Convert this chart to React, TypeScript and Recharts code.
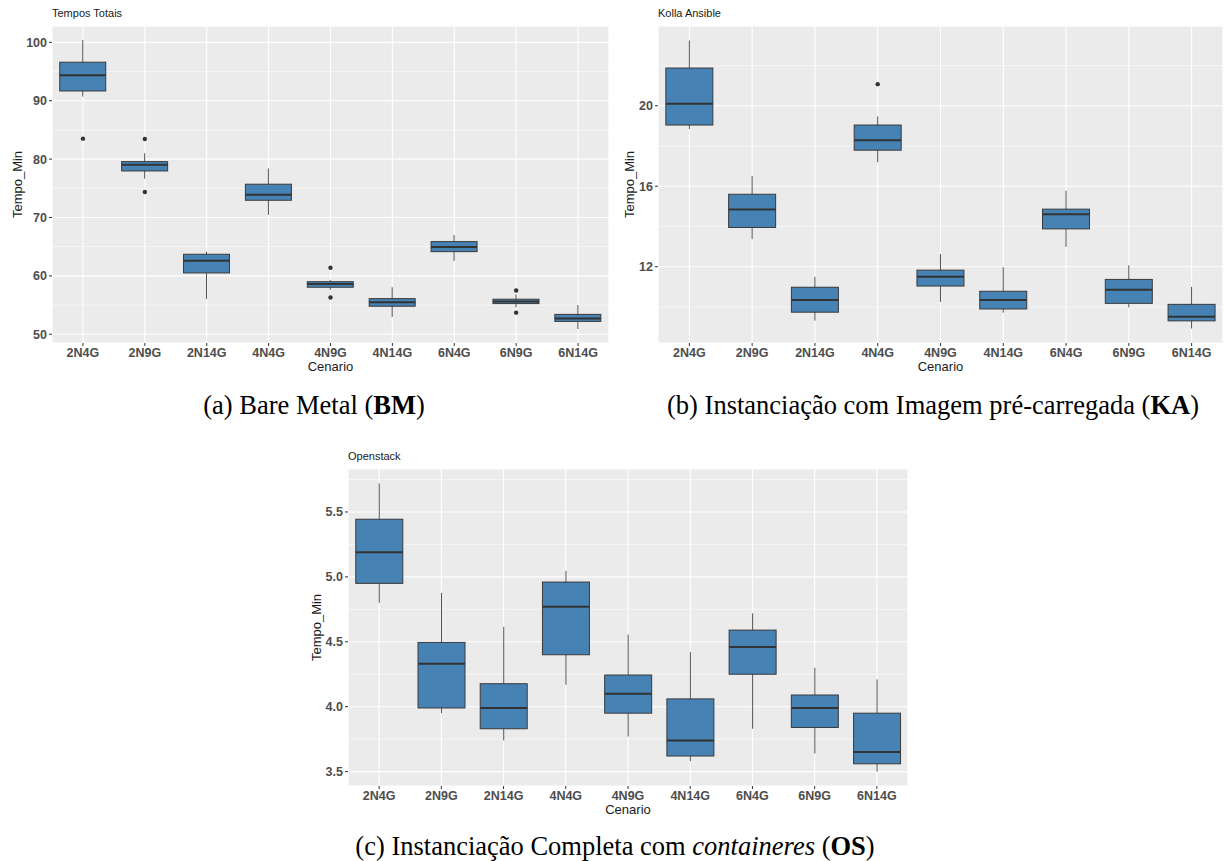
import { Bar, CartesianGrid, ComposedChart, Label, Line, XAxis, YAxis } from "recharts";

const CATEGORIES = ["2N4G", "2N9G", "2N14G", "4N4G", "4N9G", "4N14G", "6N4G", "6N9G", "6N14G"];

// (a) Bare Metal – Tempos Totais (min)
const BM_LOW = [90.7, 76.65, 56.05, 70.45, 57.6, 52.97, 62.56, 54.6, 50.9];
const BM_Q1 = [91.67, 77.97, 60.5, 72.95, 58.05, 54.8, 64.15, 55.25, 52.2];
const BM_MED = [94.35, 79.05, 62.6, 73.9, 58.6, 55.5, 64.95, 55.6, 52.7];
const BM_Q3 = [96.6, 79.57, 63.7, 75.7, 59.0, 56.1, 65.87, 56.0, 53.4];
const BM_HIGH = [100.4, 81.0, 64.15, 78.4, 59.3, 58.05, 67.0, 56.8, 55.0];
const BM_OUT_1 = [83.5, 83.45, null, null, 61.4, null, null, 57.5, null];
const BM_OUT_2 = [null, 74.37, null, null, 56.3, null, null, 53.7, null];

// (b) Kolla Ansible
const KA_LOW = [18.84, 13.37, 9.32, 17.19, 10.25, 9.72, 12.99, 9.98, 8.93];
const KA_Q1 = [19.04, 13.95, 9.74, 17.79, 11.04, 9.9, 13.88, 10.18, 9.31];
const KA_MED = [20.1, 14.84, 10.35, 18.28, 11.5, 10.35, 14.61, 10.86, 9.52];
const KA_Q3 = [21.87, 15.6, 10.98, 19.04, 11.83, 10.78, 14.86, 11.37, 10.13];
const KA_HIGH = [23.24, 16.5, 11.5, 19.47, 12.63, 11.97, 15.77, 12.07, 11.0];
const KA_OUT_1 = [null, null, null, 21.07, null, null, null, null, null];

// (c) Openstack
const OS_LOW = [4.8, 3.95, 3.74, 4.17, 3.77, 3.58, 3.83, 3.64, 3.5];
const OS_Q1 = [4.95, 3.99, 3.83, 4.4, 3.95, 3.62, 4.25, 3.84, 3.56];
const OS_MED = [5.19, 4.33, 3.99, 4.77, 4.1, 3.74, 4.46, 3.99, 3.65];
const OS_Q3 = [5.444, 4.495, 4.177, 4.96, 4.244, 4.06, 4.59, 4.09, 3.95];
const OS_HIGH = [5.72, 4.877, 4.615, 5.046, 4.556, 4.42, 4.72, 4.3, 4.21];

const BM_TICKS = [50, 60, 70, 80, 90, 100];
const BM_MINOR = [55, 65, 75, 85, 95];
const KA_TICKS = [12, 16, 20];
const KA_MINOR = [10, 14, 18, 22];
const OS_TICKS = [3.5, 4.0, 4.5, 5.0, 5.5];
const OS_MINOR = [3.75, 4.25, 4.75, 5.25, 5.75];

const SANS = "'Liberation Sans', Arial, Helvetica, sans-serif";
const SERIF = "'Liberation Serif', 'Times New Roman', serif";

function buildRows(low, q1, med, q3, high, out1?, out2?) {
  return CATEGORIES.map((cat, i) => ({
    cat,
    range: [low[i], high[i]],
    low: low[i],
    q1: q1[i],
    med: med[i],
    q3: q3[i],
    high: high[i],
    out1: out1 ? out1[i] : null,
    out2: out2 ? out2[i] : null,
  }));
}

// whisker + box + median, positioned inside the range bar Recharts lays out
function BoxShape(props: any) {
  const { x, y, width, height, payload } = props;
  if (payload == null || x == null || y == null) return null;
  const top = Math.min(y, y + height);
  const bottom = Math.max(y, y + height);
  const span = payload.high - payload.low;
  const toPx = (v: number) => top + ((payload.high - v) / span) * (bottom - top);
  const cx = x + width / 2;
  const yQ3 = toPx(payload.q3);
  const yQ1 = toPx(payload.q1);
  const yMed = toPx(payload.med);
  return (
    <g>
      <line x1={cx} x2={cx} y1={top} y2={bottom} stroke="#555" strokeWidth={1} />
      <rect x={x} y={yQ3} width={width} height={yQ1 - yQ3} fill="#4682B4" stroke="#3a3a3a" strokeWidth={1} />
      <line x1={x} x2={x + width} y1={yMed} y2={yMed} stroke="#333" strokeWidth={2} />
    </g>
  );
}

interface PanelProps {
  left: number;
  top: number;
  yAxisWidth: number;
  rightMargin: number;
  yLabelOffset: number;
  data: any[];
  domain: [number, number];
  ticks: number[];
  minor: number[];
  decimals: number;
  title: string;
}

function Panel({ left, top, yAxisWidth, rightMargin, yLabelOffset, data, domain, ticks, minor, decimals, title }: PanelProps) {
  const hasOut1 = data.some((d) => d.out1 != null);
  const hasOut2 = data.some((d) => d.out2 != null);
  return (
    <div style={{ position: "absolute", left, top, width: 615, height: 380 }}>
      <div
        style={{
          position: "absolute",
          left: yAxisWidth,
          top: 8,
          fontFamily: SANS,
          fontSize: 11,
          lineHeight: "11px",
          color: "#1a1a1a",
          whiteSpace: "nowrap",
        }}
      >
        {title}
      </div>
      <ComposedChart
        width={615}
        height={380}
        data={data}
        margin={{ top: 26, right: rightMargin, bottom: 0, left: 0 }}
        barCategoryGap="12.5%"
      >
        <CartesianGrid
          fill="#EBEBEB"
          stroke="#ffffff"
          strokeWidth={0.55}
          vertical={false}
          horizontalValues={minor}
        />
        <CartesianGrid stroke="#ffffff" strokeWidth={1.1} />
        <XAxis
          dataKey="cat"
          type="category"
          interval={0}
          height={37}
          tickSize={3}
          axisLine={false}
          tickLine={{ stroke: "#333" }}
          tick={{ fill: "#4D4D4D", fontSize: 12.5, fontWeight: "bold", fontFamily: SANS }}
        >
          <Label
            value="Cenario"
            position="insideBottom"
            offset={9}
            style={{ fill: "#1a1a1a", fontSize: 13, fontFamily: SANS }}
          />
        </XAxis>
        <YAxis
          type="number"
          width={yAxisWidth}
          domain={domain}
          ticks={ticks}
          allowDataOverflow
          tickSize={3}
          axisLine={false}
          tickLine={{ stroke: "#333" }}
          tickFormatter={(v: number) => v.toFixed(decimals)}
          tick={{ fill: "#4D4D4D", fontSize: 12.5, fontWeight: "bold", fontFamily: SANS }}
        >
          <Label
            value="Tempo_Min"
            angle={-90}
            position="insideLeft"
            offset={yLabelOffset}
            style={{ fill: "#1a1a1a", fontSize: 13, fontFamily: SANS, textAnchor: "middle" }}
          />
        </YAxis>
        <Bar dataKey="range" shape={BoxShape} isAnimationActive={false} />
        {hasOut1 && (
          <Line
            dataKey="out1"
            stroke="none"
            dot={{ r: 2.2, fill: "#333", stroke: "none" }}
            activeDot={false}
            isAnimationActive={false}
          />
        )}
        {hasOut2 && (
          <Line
            dataKey="out2"
            stroke="none"
            dot={{ r: 2.2, fill: "#333", stroke: "none" }}
            activeDot={false}
            isAnimationActive={false}
          />
        )}
      </ComposedChart>
    </div>
  );
}

function Caption({ center, top, children }: { center: number; top: number; children: any }) {
  return (
    <div
      style={{
        position: "absolute",
        left: center - 320,
        top,
        width: 640,
        textAlign: "center",
        fontFamily: SERIF,
        fontSize: 26.5,
        lineHeight: "26.5px",
        color: "#000",
        whiteSpace: "nowrap",
      }}
    >
      {children}
    </div>
  );
}

export default function App() {
  const bm = buildRows(BM_LOW, BM_Q1, BM_MED, BM_Q3, BM_HIGH, BM_OUT_1, BM_OUT_2);
  const ka = buildRows(KA_LOW, KA_Q1, KA_MED, KA_Q3, KA_HIGH, KA_OUT_1);
  const os = buildRows(OS_LOW, OS_Q1, OS_MED, OS_Q3, OS_HIGH);

  return (
    <div style={{ position: "absolute", left: 0, top: 0, width: 1225, height: 861, background: "#fff" }}>
      <Panel
        left={0}
        top={0}
        yAxisWidth={52}
        rightMargin={6}
        yLabelOffset={17}
        data={bm}
        domain={[48.5, 102.8]}
        ticks={BM_TICKS}
        minor={BM_MINOR}
        decimals={0}
        title="Tempos Totais"
      />
      <Panel
        left={610}
        top={0}
        yAxisWidth={48}
        rightMargin={2}
        yLabelOffset={19}
        data={ka}
        domain={[8.21, 23.96]}
        ticks={KA_TICKS}
        minor={KA_MINOR}
        decimals={0}
        title="Kolla Ansible"
      />
      <Panel
        left={300}
        top={443}
        yAxisWidth={48}
        rightMargin={7}
        yLabelOffset={16}
        data={os}
        domain={[3.389, 5.831]}
        ticks={OS_TICKS}
        minor={OS_MINOR}
        decimals={1}
        title="Openstack"
      />
      <Caption center={314} top={392}>
        (a) Bare Metal (<b>BM</b>)
      </Caption>
      <Caption center={933} top={392}>
        (b) Instanciação com Imagem pré-carregada (<b>KA</b>)
      </Caption>
      <Caption center={615} top={833}>
        (c) Instanciação Completa com <i>containeres</i> (<b>OS</b>)
      </Caption>
    </div>
  );
}
